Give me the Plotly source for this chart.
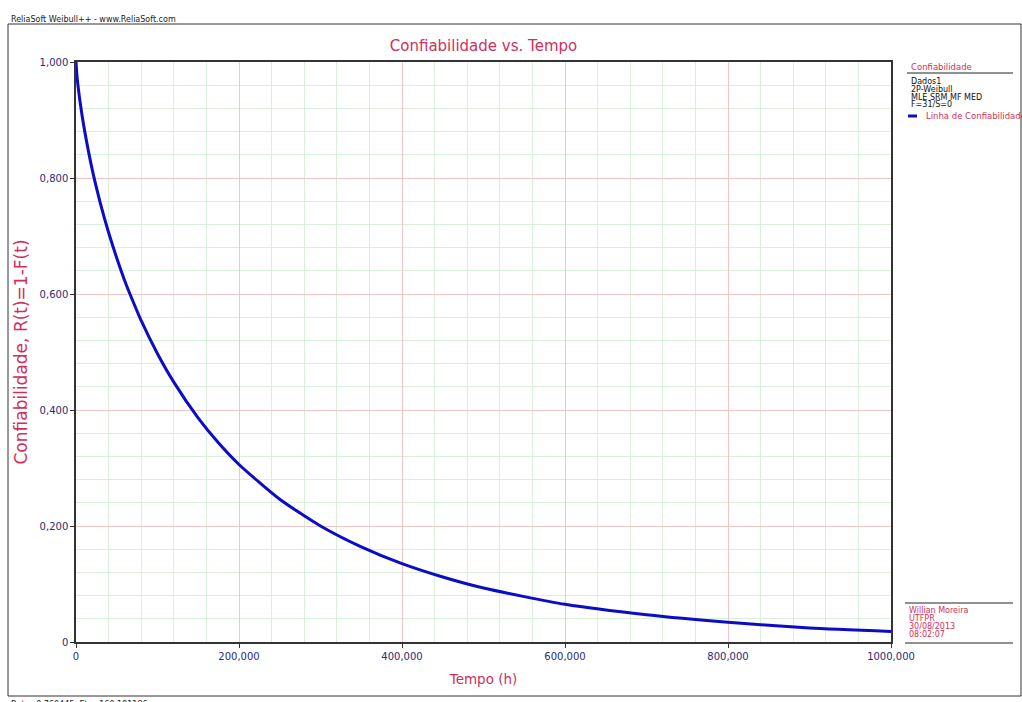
import plotly.graph_objects as go

# Reliability curve R(t)
tempo_h = [0, 1000, 2000, 5000, 10000, 20000, 30000, 40000, 50000, 60000,
           70000, 80000, 100000, 120000, 150000, 175000, 200000, 250000,
           300000, 350000, 400000, 450000, 500000, 600000, 700000, 800000,
           900000, 1000000]
confiabilidade = [1.000, 0.979, 0.965, 0.931, 0.886, 0.814, 0.756, 0.706,
                  0.662, 0.622, 0.587, 0.554, 0.497, 0.448, 0.386, 0.343,
                  0.306, 0.246, 0.200, 0.164, 0.135, 0.112, 0.093, 0.065,
                  0.047, 0.034, 0.024, 0.018]

x_tick_vals = [0, 200000, 400000, 600000, 800000, 1000000]
x_tick_text = ["0", "200,000", "400,000", "600,000", "800,000", "1000,000"]
y_tick_vals = [0, 0.2, 0.4, 0.6, 0.8, 1.0]
y_tick_text = ["0", "0,200", "0,400", "0,600", "0,800", "1,000"]

info_lines = ["Dados1", "2P-Weibull", "MLE SRM MF MED", "F=31/S=0"]
author_lines = ["Willian Moreira", "UTFPR", "30/08/2013", "08:02:07"]

W, H = 1022, 702
L, R, T, B = 76, 131, 62, 60
PW, PH = W - L - R, H - T - B

RED = "#cf2f5c"
NAVY = "#2b2b70"
BLUE = "#0c0cc6"
FONT = "DejaVu Sans"


def px(x):
    return (x - L) / PW


def py(y):
    return (H - B - y) / PH


fig = go.Figure()
fig.add_trace(go.Scatter(
    x=tempo_h, y=confiabilidade, mode="lines",
    line=dict(color=BLUE, width=3, shape="spline", smoothing=0.6),
    name="Linha de Confiabilidade", showlegend=False,
))

axis_common = dict(
    showline=True, linecolor="#333333", linewidth=1.5, mirror=True,
    ticks="outside", ticklen=4, tickcolor="#333333",
    tickfont=dict(family=FONT, size=10, color=NAVY),
    gridcolor="#f1c6c9", gridwidth=1, zeroline=False,
)

fig.update_xaxes(
    range=[0, 1000000], tickvals=x_tick_vals, ticktext=x_tick_text,
    minor=dict(dtick=40000, showgrid=True, gridcolor="#d8f1d8", gridwidth=1),
    title=dict(text="Tempo (h)", font=dict(family=FONT, size=13.5, color=RED),
               standoff=14),
    **axis_common,
)
fig.update_yaxes(
    range=[0, 1.0], tickvals=y_tick_vals, ticktext=y_tick_text,
    minor=dict(dtick=0.04, showgrid=True, gridcolor="#d8f1d8", gridwidth=1),
    title=dict(text="Confiabilidade, R(t)=1-F(t)",
               font=dict(family=FONT, size=17, color=RED), standoff=8),
    **axis_common,
)

shapes = [
    # outer frame of the report page
    dict(type="rect", xref="paper", yref="paper",
         x0=px(8), x1=px(1021), y0=py(696), y1=py(24),
         line=dict(color="#333333", width=1), layer="below"),
    # legend header rule
    dict(type="line", xref="paper", yref="paper",
         x0=px(907), x1=px(1013), y0=py(73), y1=py(73),
         line=dict(color="#222222", width=1)),
    # legend line sample
    dict(type="line", xref="paper", yref="paper",
         x0=px(908), x1=px(917), y0=py(116), y1=py(116),
         line=dict(color=BLUE, width=3)),
    # author block rules
    dict(type="line", xref="paper", yref="paper",
         x0=px(905), x1=px(1013), y0=py(603), y1=py(603),
         line=dict(color="#222222", width=1)),
    dict(type="line", xref="paper", yref="paper",
         x0=px(905), x1=px(1013), y0=py(643), y1=py(643),
         line=dict(color="#222222", width=1)),
]

annotations = [
    dict(text="ReliaSoft Weibull++ - www.ReliaSoft.com", x=px(9), y=py(19),
         xanchor="left", yanchor="middle", font=dict(family=FONT, size=8,
                                                      color="#222222")),
    dict(text="Beta=0,760445, Eta=160,181186", x=px(9), y=py(698),
         xanchor="left", yanchor="top", font=dict(family=FONT, size=8,
                                                   color="#222222")),
    dict(text="Confiabilidade", x=px(909), y=py(67), xanchor="left",
         yanchor="middle", font=dict(family=FONT, size=8.5, color=RED)),
    dict(text="Linha de Confiabilidade", x=px(924), y=py(116),
         xanchor="left", yanchor="middle",
         font=dict(family=FONT, size=8.5, color=RED)),
]
for i, t in enumerate(info_lines):
    annotations.append(dict(text=t, x=px(909), y=py(81.5 + 7.8 * i),
                            xanchor="left", yanchor="middle",
                            font=dict(family=FONT, size=8, color="#111111")))
for i, t in enumerate(author_lines):
    annotations.append(dict(text=t, x=px(907), y=py(610 + 8 * i),
                            xanchor="left", yanchor="middle",
                            font=dict(family=FONT, size=8, color=RED)))
for a in annotations:
    a.update(xref="paper", yref="paper", showarrow=False)

fig.update_layout(
    width=W, height=H,
    margin=dict(l=L, r=R, t=T, b=B),
    paper_bgcolor="white", plot_bgcolor="white",
    title=dict(text="Confiabilidade vs. Tempo", xref="paper", x=0.5,
               xanchor="center", y=1 - 46 / H, yanchor="middle",
               font=dict(family=FONT, size=15, color=RED)),
    shapes=shapes, annotations=annotations, showlegend=False,
)

fig.write_html("out.html")
